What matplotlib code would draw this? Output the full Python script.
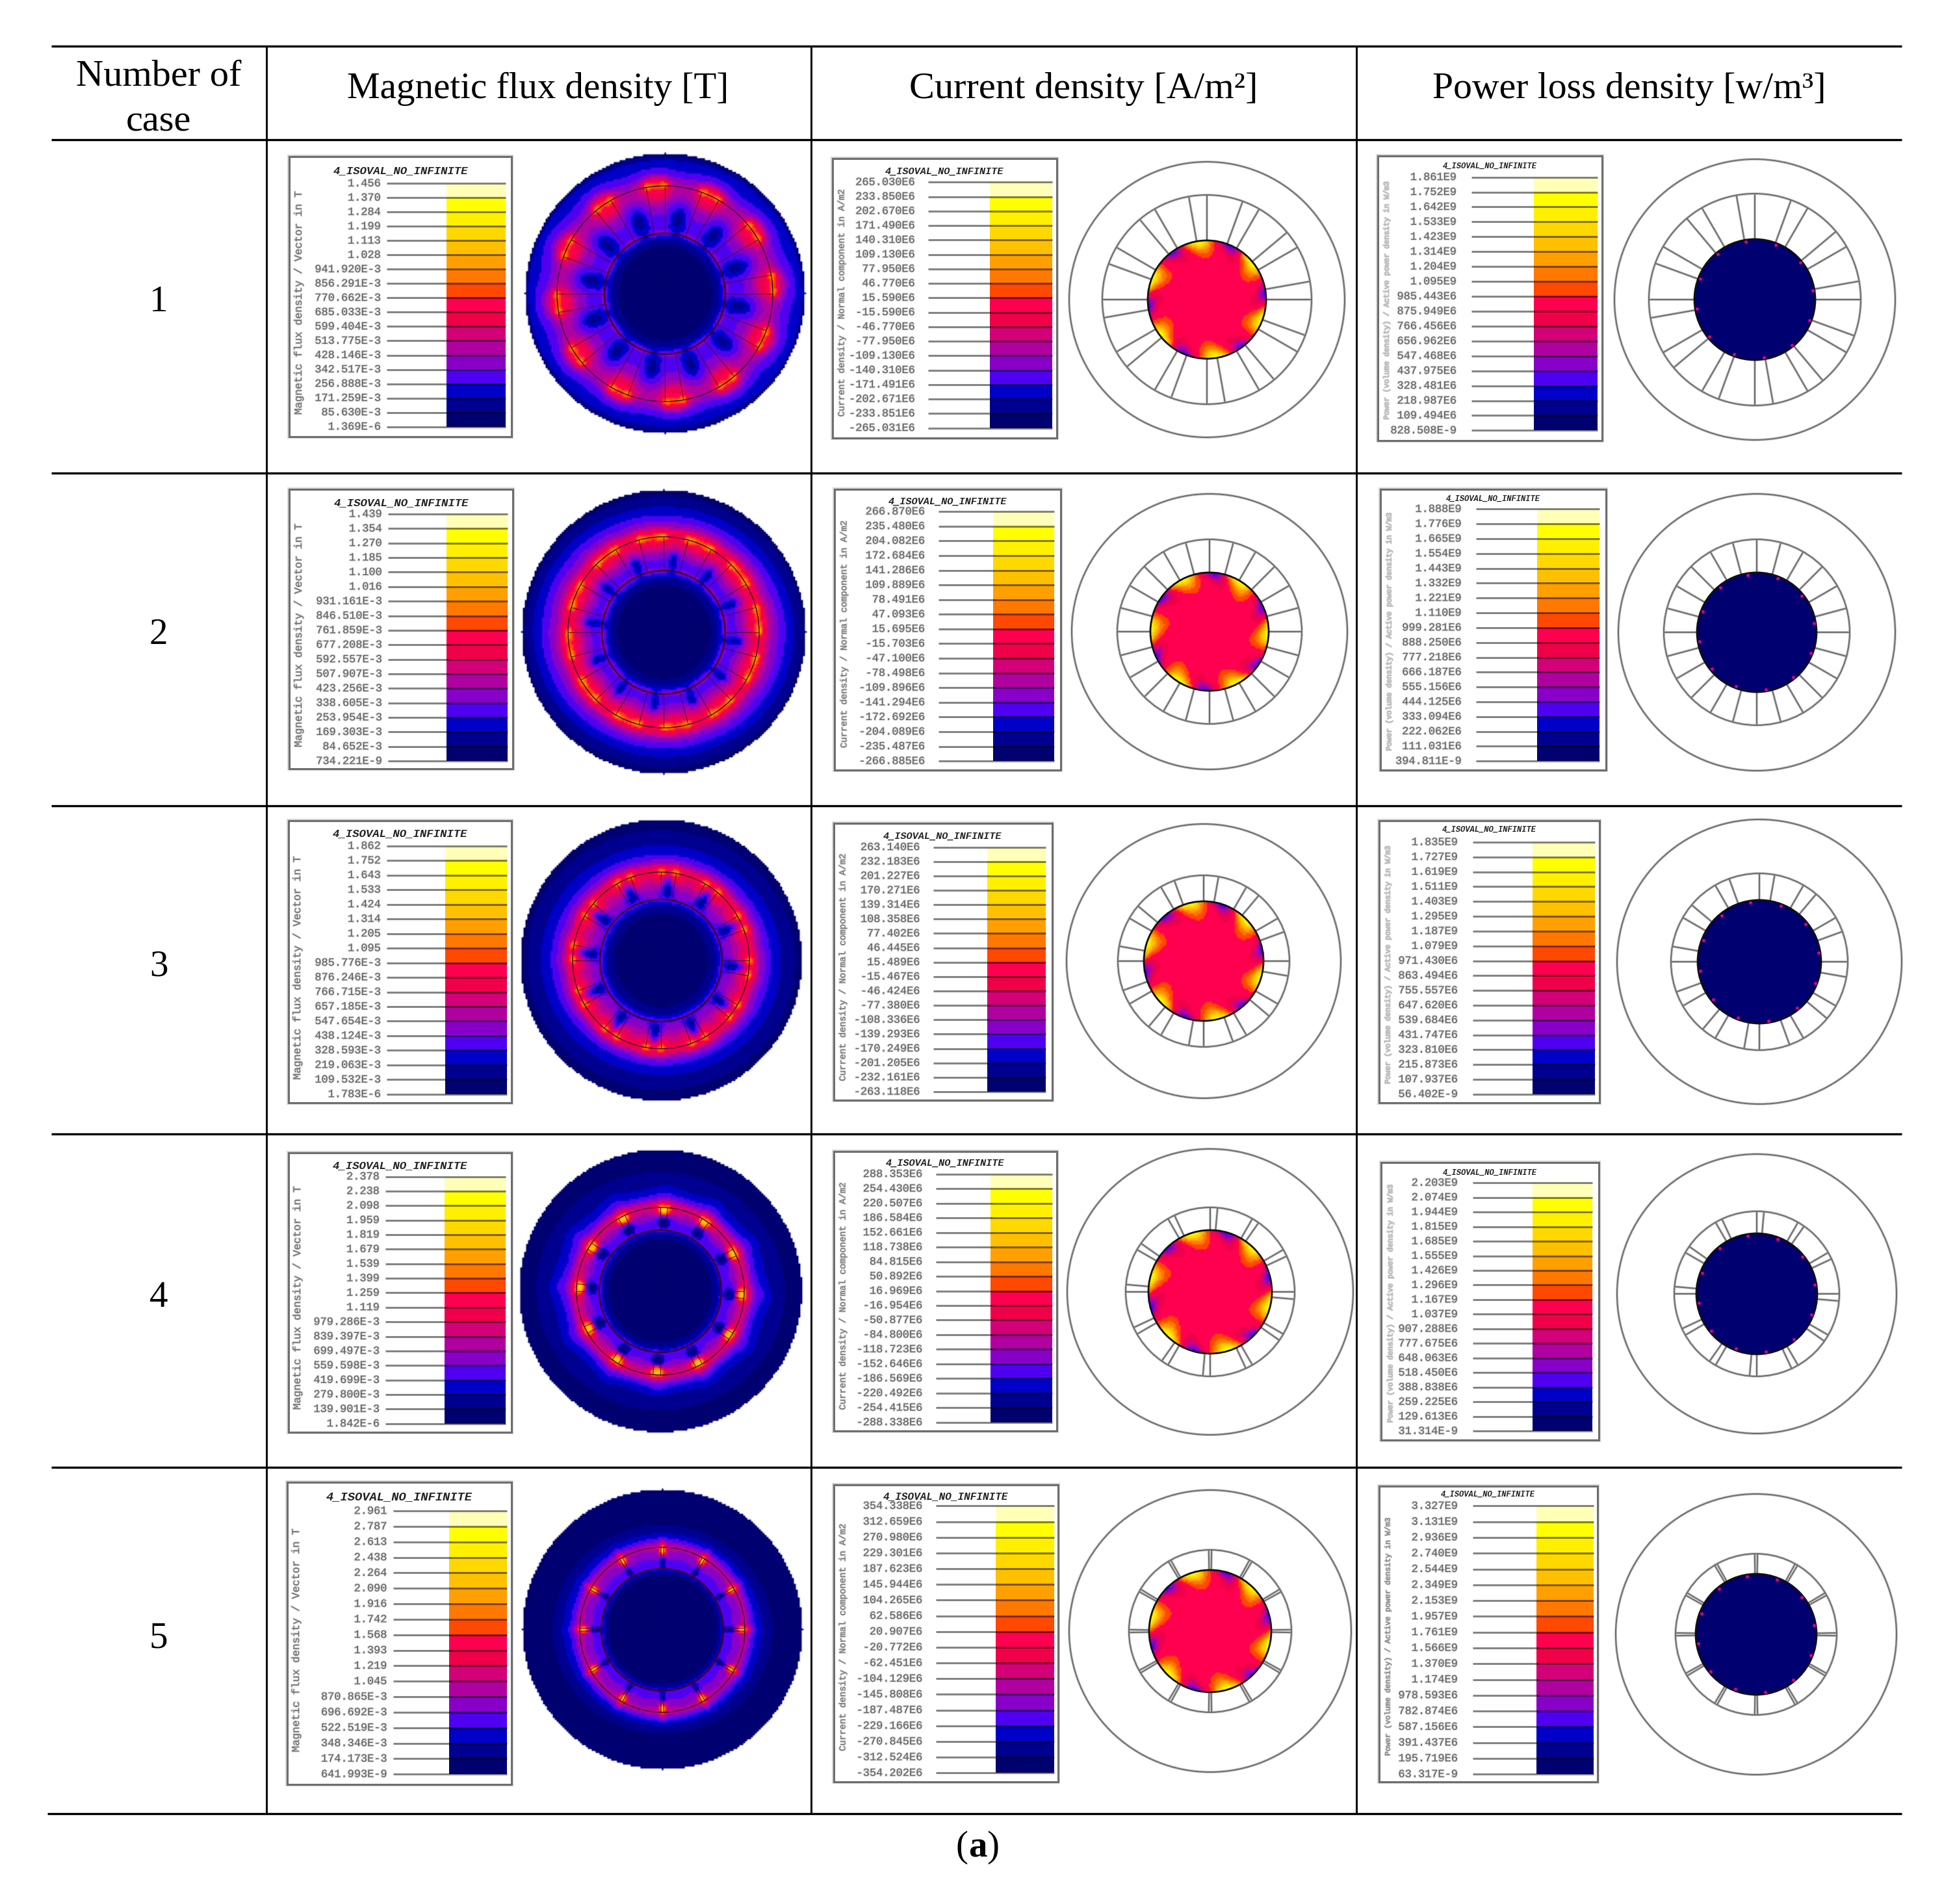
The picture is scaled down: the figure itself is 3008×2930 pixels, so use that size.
import numpy as np
import matplotlib
matplotlib.use("Agg")
import matplotlib.pyplot as plt
import matplotlib.patheffects as pe
from matplotlib.colors import ListedColormap, BoundaryNorm
from matplotlib.patches import Circle, Rectangle

# ---------- text content ----------
CASES = ["1", "2", "3", "4", "5"]
HEADERS = ["Magnetic flux density [T]", "Current density [A/m²]", "Power loss density [w/m³]"]
HEADER_SIZES = [41, 42, 41.5]
LEGEND_TITLE = "4_ISOVAL_NO_INFINITE"
YLABELS = ["Magnetic flux density / Vector in T",
           "Current density / Normal component in A/m2",
           "Power (volume density) / Active power density in W/m3"]

FLUX_LABELS = [
 "1.456 1.370 1.284 1.199 1.113 1.028 941.920E-3 856.291E-3 770.662E-3 685.033E-3 599.404E-3 513.775E-3 428.146E-3 342.517E-3 256.888E-3 171.259E-3 85.630E-3 1.369E-6".split(),
 "1.439 1.354 1.270 1.185 1.100 1.016 931.161E-3 846.510E-3 761.859E-3 677.208E-3 592.557E-3 507.907E-3 423.256E-3 338.605E-3 253.954E-3 169.303E-3 84.652E-3 734.221E-9".split(),
 "1.862 1.752 1.643 1.533 1.424 1.314 1.205 1.095 985.776E-3 876.246E-3 766.715E-3 657.185E-3 547.654E-3 438.124E-3 328.593E-3 219.063E-3 109.532E-3 1.783E-6".split(),
 "2.378 2.238 2.098 1.959 1.819 1.679 1.539 1.399 1.259 1.119 979.286E-3 839.397E-3 699.497E-3 559.598E-3 419.699E-3 279.800E-3 139.901E-3 1.842E-6".split(),
 "2.961 2.787 2.613 2.438 2.264 2.090 1.916 1.742 1.568 1.393 1.219 1.045 870.865E-3 696.692E-3 522.519E-3 348.346E-3 174.173E-3 641.993E-9".split(),
]
CURRENT_LABELS = [
 "265.030E6 233.850E6 202.670E6 171.490E6 140.310E6 109.130E6 77.950E6 46.770E6 15.590E6 -15.590E6 -46.770E6 -77.950E6 -109.130E6 -140.310E6 -171.491E6 -202.671E6 -233.851E6 -265.031E6".split(),
 "266.870E6 235.480E6 204.082E6 172.684E6 141.286E6 109.889E6 78.491E6 47.093E6 15.695E6 -15.703E6 -47.100E6 -78.498E6 -109.896E6 -141.294E6 -172.692E6 -204.089E6 -235.487E6 -266.885E6".split(),
 "263.140E6 232.183E6 201.227E6 170.271E6 139.314E6 108.358E6 77.402E6 46.445E6 15.489E6 -15.467E6 -46.424E6 -77.380E6 -108.336E6 -139.293E6 -170.249E6 -201.205E6 -232.161E6 -263.118E6".split(),
 "288.353E6 254.430E6 220.507E6 186.584E6 152.661E6 118.738E6 84.815E6 50.892E6 16.969E6 -16.954E6 -50.877E6 -84.800E6 -118.723E6 -152.646E6 -186.569E6 -220.492E6 -254.415E6 -288.338E6".split(),
 "354.338E6 312.659E6 270.980E6 229.301E6 187.623E6 145.944E6 104.265E6 62.586E6 20.907E6 -20.772E6 -62.451E6 -104.129E6 -145.808E6 -187.487E6 -229.166E6 -270.845E6 -312.524E6 -354.202E6".split(),
]
POWER_LABELS = [
 "1.861E9 1.752E9 1.642E9 1.533E9 1.423E9 1.314E9 1.204E9 1.095E9 985.443E6 875.949E6 766.456E6 656.962E6 547.468E6 437.975E6 328.481E6 218.987E6 109.494E6 828.508E-9".split(),
 "1.888E9 1.776E9 1.665E9 1.554E9 1.443E9 1.332E9 1.221E9 1.110E9 999.281E6 888.250E6 777.218E6 666.187E6 555.156E6 444.125E6 333.094E6 222.062E6 111.031E6 394.811E-9".split(),
 "1.835E9 1.727E9 1.619E9 1.511E9 1.403E9 1.295E9 1.187E9 1.079E9 971.430E6 863.494E6 755.557E6 647.620E6 539.684E6 431.747E6 323.810E6 215.873E6 107.937E6 56.402E-9".split(),
 "2.203E9 2.074E9 1.944E9 1.815E9 1.685E9 1.555E9 1.426E9 1.296E9 1.167E9 1.037E9 907.288E6 777.675E6 648.063E6 518.450E6 388.838E6 259.225E6 129.613E6 31.314E-9".split(),
 "3.327E9 3.131E9 2.936E9 2.740E9 2.544E9 2.349E9 2.153E9 1.957E9 1.761E9 1.566E9 1.370E9 1.174E9 978.593E6 782.874E6 587.156E6 391.437E6 195.719E6 63.317E-9".split(),
]

# colour bands, bottom to top of every scale
BANDS = ["#000070", "#000090", "#0000C8", "#5000F0", "#8800C8", "#B000A0", "#D40078",
         "#F00048", "#FF0050", "#FF4800", "#FF7800", "#FFA000", "#FFC000", "#FFD800",
         "#FFF000", "#FFFF00", "#FFFFB8"]

# ---------- table layout (pixels) ----------
H_LINES = [71, 215, 728, 1240, 1745, 2258, 2791]
V_LINES = [410, 1248, 2087]
ROW_Y = [465, 977, 1488, 1997, 2521]
COL_X = [828, 1667, 2507]
U = 1.92  # legend boxes below were measured at 1/1.92 of full size
# box x0, x1, y0, y1, bar x0, x1, tick start, top tick, bottom tick, title y
FLUX_LEG = [
 [232, 410, 125.5, 350, 358, 405, 310, 147, 342, 137],
 [232, 411, 392, 616, 358, 407, 311, 412, 610, 403],
 [231, 410, 658, 884, 357, 406, 310, 678, 877, 668],
 [231, 410, 924, 1148, 356, 405, 309, 943, 1141, 934],
 [230, 410, 1188, 1430, 360, 406, 315, 1211, 1422, 1200],
]
CURR_LEG = [
 [667, 847, 127, 351, 793, 843, 744, 146, 343, 137.5],
 [669, 850, 392, 617, 796, 845, 752, 410, 610, 402],
 [668, 843, 660, 882, 791, 838, 748, 679, 875, 670],
 [668, 847, 923, 1147, 794, 843, 750, 941, 1140, 932],
 [668, 848, 1190, 1428, 798, 845, 750, 1207, 1421, 1199],
]
POWER_LEG = [
 [1104, 1284, 125, 353, 1229, 1280, 1179, 142, 345, 133],
 [1106, 1287, 392, 617, 1232, 1282, 1183, 408, 610, 400],
 [1105, 1282, 658, 884, 1228, 1278, 1180, 675, 877, 665],
 [1107, 1281, 932, 1154, 1228, 1276, 1180, 948, 1147, 940],
 [1105, 1280, 1191, 1428, 1231, 1277, 1180, 1207, 1422, 1198],
]

# ---------- motor geometry ----------
TOOTH_START = [0, 0, -10, -5, -1]      # degrees of first line of each pair
TOOTH_WIDTH = [10, 15, 10, 5, 2]       # degrees between the two lines of a pair
SIDE_OFFSET = [3, 3, 3, 3, 1.5]        # degrees from pair to the "side" column below
FLUX_C = [(1023, 452), (1021, 973), (1017, 1478), (1016, 1987), (1019, 2508)]
FLUX_R = [(216, 166, 93), (219, 147, 95), (217, 136, 94), (218, 129, 94), (216, 127, 94)]
CURR_C = [(1857, 461), (1861, 972), (1852, 1479), (1862, 1988), (1862, 2510)]
CURR_R = [(212, 161, 91), (212, 142, 91), (211, 132, 92), (220, 130, 95), (217, 125, 94)]
POWER_C = [(2700, 461), (2703, 973), (2707, 1480), (2703, 1991), (2702, 2515)]
POWER_R = [(216, 163, 93), (213, 143, 92), (219, 136, 95), (215, 127, 93), (216, 124, 93)]
POWER_SPOT_ANGLE = 9                   # rim hot spots, one per 30 degrees

# ---------- flux density field, band index read at radius / sector position ----------
# columns: pair edge, pair middle, just outside pair, middle of wide sector
FLUX_RADII = [
 [0, 60, 78, 88, 93, 100, 118, 135, 150, 160, 166, 172, 180, 190, 205, 213, 216],
 [0, 60, 78, 88, 95, 102, 115, 128, 138, 147, 153, 162, 175, 190, 205, 215, 219],
 [0, 60, 75, 88, 94, 100, 110, 122, 130, 136, 142, 150, 165, 185, 205, 212, 217],
 [0, 60, 80, 90, 94, 100, 112, 122, 129, 135, 145, 160, 180, 200, 218],
 [0, 62, 85, 92, 94, 97, 110, 120, 127, 132, 140, 150, 165, 190, 216],
]
FLUX_EDGE = [
 [0, .3, 1.3, 2.5, 6, 3.2, 3.8, 4.8, 7.5, 8.5, 13, 8.5, 5, 3.4, 2.5, 1.5, 0],
 [0, .3, 1.3, 2.5, 5.5, 3, 4, 6, 8, 13, 8.5, 5.5, 3.8, 2.5, 1.5, .8, 0],
 [0, .2, 1.2, 2.3, 5, 3, 4, 7, 9, 13, 9, 5, 3, 1.8, 1, .5, 0],
 [0, .2, 1, 2, 5, 2, 1, 13, 13, 7, 4, 2.5, 1.2, .7, 0],
 [0, .2, 1, 2, 5, 1, 1.5, 16, 12, 7, 3.5, 2.2, 1, 0, 0],
]
FLUX_PAIR = [
 [0, .3, 1.3, 2.5, 5, 3.2, 3.8, 5, 7.5, 8.5, 9.5, 8.5, 6, 3.5, 2.5, 1.5, 0],
 [0, .3, 1.3, 2.5, 4.5, 3.5, 4.5, 6.5, 8, 9.5, 8.5, 5.5, 3.8, 2.5, 1.5, .8, 0],
 [0, .2, 1.2, 2.3, 4, 1.5, .8, 2.5, 6, 8, 7.5, 5, 3, 1.8, 1, .5, 0],
 [0, .2, 1, 2, 4, 1, .8, 15, 11, 7, 4, 2.5, 1.2, .7, 0],
 [0, .2, 1, 2, 5, 1, 1.5, 16, 12, 7, 3.5, 2.2, 1, 0, 0],
]
FLUX_SIDE = [
 [0, .3, 1.3, 2.5, 4, 3, 3.3, 4, 5.5, 6.5, 6.5, 5.5, 4.2, 3.2, 2.5, 1.5, 0],
 [0, .3, 1.3, 2.5, 4, 3.5, 4, 6, 7.5, 8.5, 8, 5.2, 3.8, 2.5, 1.5, .8, 0],
 [0, .2, 1.2, 2.3, 4, 4, 5, 7, 8, 8.5, 7.5, 5, 3, 1.8, 1, .5, 0],
 [0, .2, 1, 2, 4, 3, 4, 6.5, 8, 6, 3.5, 2.2, 1.2, .7, 0],
 [0, .2, 1, 1.8, 5, 3, 4.5, 5, 7, 5, 3, 2, 1, 0, 0],
]
FLUX_WIDE = [
 [0, .3, 1.3, 2.5, 3, 2, .8, 3, 4.8, 5.2, 5, 4.6, 3.8, 3, 2.4, 1.5, 0],
 [0, .3, 1.3, 2.5, 3, 1.5, 1, 5.5, 7, 8, 7.5, 5, 3.7, 2.5, 1.5, .8, 0],
 [0, .2, 1.2, 2.3, 4, 4, 5, 6, 7, 8, 7, 4.5, 3, 1.8, 1, .5, 0],
 [0, .2, 1, 2, 4, 3.5, 4.5, 5.5, 7, 5.5, 3.2, 2, 1.2, .7, 0],
 [0, .2, 1, 1.8, 5, 3, 4, 4.5, 6, 4.5, 3, 2, 1, 0, 0],
]
# outer-field lobes: radial shift in px, 16 directions from 0 degrees
FLUX_LOBES = [3, 1, -2, -4, -5, -3, 1, 3, 4, 2, -1, -4, -5, -4, 0, 2]

# ---------- current density field on the rotor (period 60 degrees) ----------
CURR_ORANGE_ANGLE = [39, 58, 44, 47, 47]     # direction of one orange lobe
CURR_U = [-20, -14, -7, 0, 7, 14, 20, 28, 34, 40]
CURR_F = [0, .66, .74, .84, .92, .97, 1.0]
CURR_Z = [
 [8.5] * 10,
 [8.5] * 10,
 [8.5, 8.5, 8.5, 10.0, 9.0, 8.5, 8.5, 7.5, 8.5, 8.5],
 [8.5, 8.5, 9.6, 11.5, 10.5, 8.5, 8.2, 6.0, 7.8, 8.5],
 [8.5, 8.6, 11.0, 14.0, 12.0, 8.5, 7.5, 4.5, 7.0, 8.5],
 [8.5, 9.0, 14.0, 16.5, 14.0, 9.0, 6.0, 2.0, 5.5, 8.5],
 [8.5, 9.5, 16.0, 17.0, 16.0, 9.5, 5.0, 0.0, 4.5, 8.5],
]
CURR_SKEW = 36   # degrees of spiral per unit of radius fraction

# ---------- styles ----------
SERIF = "Liberation Serif"
MONO = "Liberation Mono"
CMAP = ListedColormap(BANDS)
CMAP.set_bad((1, 1, 1, 0))
NORM = BoundaryNorm(np.arange(len(BANDS) + 1), len(BANDS))

fig = plt.figure(figsize=(30.08, 29.30), dpi=100)
ax = fig.add_axes([0, 0, 1, 1])
ax.set_xlim(0, 3008)
ax.set_ylim(2930, 0)
ax.axis("off")
ax.autoscale(False)


def lookup(v, nodes):
    i = np.clip(np.searchsorted(nodes, v, side="right") - 1, 0, len(nodes) - 2)
    t = np.clip((v - nodes[i]) / (nodes[i + 1] - nodes[i]), 0, 1)
    return i, t


def table(r, u, rows, cols, Z):
    rows, cols, Z = np.asarray(rows, float), np.asarray(cols, float), np.asarray(Z, float)
    i, t = lookup(r, rows)
    j, s = lookup(u, cols)
    return (Z[i, j] * (1 - t) * (1 - s) + Z[i + 1, j] * t * (1 - s)
            + Z[i, j + 1] * (1 - t) * s + Z[i + 1, j + 1] * t * s)


def box_smooth(Z, width, passes):
    kernel = np.ones(width) / width
    pad = width // 2
    for _ in range(passes):
        P = np.pad(Z, pad, mode="edge")
        P = np.apply_along_axis(lambda a: np.convolve(a, kernel, mode="same"), 0, P)
        P = np.apply_along_axis(lambda a: np.convolve(a, kernel, mode="same"), 1, P)
        Z = P[pad:-pad, pad:-pad]
    return Z


def show_field(cx, cy, R, Z_func, step=3.0, smooth=(3, 1)):
    xs = np.arange(cx - R - 6, cx + R + 6, step)
    ys = np.arange(cy - R - 6, cy + R + 6, step)
    X, Y = np.meshgrid(xs, ys)
    dx, dy = X - cx, cy - Y
    r = np.hypot(dx, dy)
    th = np.degrees(np.arctan2(dy, dx)) % 360
    Zv = box_smooth(Z_func(r, th), *smooth)
    Z = np.ma.masked_where(r > R, np.clip(Zv, 0, 16.99))
    ax.imshow(Z, cmap=CMAP, norm=NORM, origin="upper", aspect="auto",
              extent=(xs[0] - step / 2, xs[-1] + step / 2, ys[-1] + step / 2, ys[0] - step / 2),
              interpolation="bilinear", interpolation_stage="rgba", zorder=2)


def soft_circle(cx, cy, r, color="#707070", lw=1.5, halo="#cfcfcf", z=4):
    if halo:
        ax.add_patch(Circle((cx, cy), r, fill=False, ec=halo, lw=lw + 1.4, zorder=z))
    ax.add_patch(Circle((cx, cy), r, fill=False, ec=color, lw=lw, zorder=z))


def tooth_lines(cx, cy, r0, r1, case, color, lw, halo=None, alpha=1.0):
    angs = []
    for k in range(12):
        angs += [TOOTH_START[case] + 30 * k, TOOTH_START[case] + TOOTH_WIDTH[case] + 30 * k]
    for a in angs:
        c, s = np.cos(np.radians(a)), np.sin(np.radians(a))
        xx = [cx + r0 * c, cx + r1 * c]
        yy = [cy - r0 * s, cy - r1 * s]
        if halo:
            ax.plot(xx, yy, color=halo, lw=lw + 1.4, solid_capstyle="butt", zorder=3)
        ax.plot(xx, yy, color=color, lw=lw, alpha=alpha, solid_capstyle="butt", zorder=4)


def flux_panel(case):
    cx, cy = FLUX_C[case]
    R, rs, rr = FLUX_R[case]
    w = TOOTH_WIDTH[case]
    d = SIDE_OFFSET[case]
    mid = (w + 30) / 2
    cols = [0, w / 2, w, w + d, mid, 30 - d, 30]
    rows = FLUX_RADII[case]
    E, P, S, W = FLUX_EDGE[case], FLUX_PAIR[case], FLUX_SIDE[case], FLUX_WIDE[case]
    Zt = np.array([E, P, E, S, W, S, E]).T

    def f(r, th):
        u = (th - TOOTH_START[case]) % 30
        lobes = np.interp(th, np.arange(0, 360, 22.5), FLUX_LOBES, period=360)
        fade = np.clip((r - rs - 10) / 20, 0, 1) * np.clip((R - r) / 12, 0, 1)
        return table(r - lobes * fade, u, rows, cols, Zt)

    show_field(cx, cy, R, f, smooth=(3, 1))
    ink = "#3a0030"
    soft_circle(cx, cy, rs, color=ink, lw=1.0, halo=None)
    soft_circle(cx, cy, rr, color=ink, lw=1.8, halo=None)
    tooth_lines(cx, cy, rr, rs, case, ink, 0.9, alpha=0.75)


def current_panel(case):
    cx, cy = CURR_C[case]
    R, rs, rr = CURR_R[case]
    off = CURR_ORANGE_ANGLE[case]

    def f(r, th):
        frac = r / rr
        u = ((th - off + 20 + CURR_SKEW * (1 - frac)) % 60) - 20
        return table(frac, u, CURR_F, CURR_U, CURR_Z)

    show_field(cx, cy, rr + 0.5, f, step=2.5, smooth=(5, 2))
    soft_circle(cx, cy, R)
    soft_circle(cx, cy, rs)
    tooth_lines(cx, cy, rr, rs, case, "#707070", 1.5, halo="#cfcfcf")
    soft_circle(cx, cy, rr, color="#101010", lw=2.0, halo=None, z=5)


def power_panel(case):
    cx, cy = POWER_C[case]
    R, rs, rr = POWER_R[case]
    soft_circle(cx, cy, R)
    soft_circle(cx, cy, rs)
    tooth_lines(cx, cy, rr, rs, case, "#707070", 1.5, halo="#cfcfcf")
    ax.add_patch(Circle((cx, cy), rr, fc=BANDS[0], ec="#101010", lw=2.0, zorder=5))
    a = np.radians(POWER_SPOT_ANGLE + 30 * np.arange(12))
    ax.scatter(cx + (rr - 3) * np.cos(a), cy - (rr - 3) * np.sin(a), s=10,
               c=BANDS[8], edgecolors="#A000A0", linewidths=0.6, zorder=6)


def legend(spec, labels, ylabel, title_size, lab_size, ylab_size, lab_gap, ylab_color,
           title_color="#222222"):
    x0, x1, y0, y1, bx0, bx1, t0, top, bot, ty = [v * U for v in spec]
    ax.add_patch(Rectangle((x0, y0), x1 - x0, y1 - y0, fc="white", ec="#d5d5d5", lw=4.2, zorder=1))
    ax.add_patch(Rectangle((x0, y0), x1 - x0, y1 - y0, fc="white", ec="#6e6e6e", lw=2.2, zorder=1.1))
    ticks = np.linspace(top, bot, len(labels))
    heights = np.diff(ticks)
    ax.bar(np.full(len(BANDS), (bx0 + bx1) / 2), heights, width=bx1 - bx0, bottom=ticks[:-1],
           color=BANDS[::-1], zorder=2)
    ax.hlines(ticks, t0, bx1, colors="#000000", alpha=0.48, lw=2.2, zorder=3)
    halo = [pe.withStroke(linewidth=1.6, foreground="#d8d8d8")]
    for y, s in zip(ticks, labels):
        ax.text(t0 - lab_gap * U, y, s, ha="right", va="center", family=MONO, fontsize=lab_size,
                color="#5c5c5c", path_effects=halo, zorder=3)
    ax.text((x0 + x1) / 2, ty, LEGEND_TITLE, ha="center", va="center", family=MONO,
            fontweight="bold", fontstyle="italic", fontsize=title_size, color=title_color, zorder=3)
    ax.text(x0 + 14, (top + bot) / 2 - 4, ylabel, rotation=90, ha="center", va="center", family=MONO,
            fontsize=ylab_size, color=ylab_color, path_effects=halo, zorder=3)


# ---------- table rules and heads ----------
for i, y in enumerate(H_LINES):
    ax.hlines(y, 73 if i == len(H_LINES) - 1 else 79, 2926, colors="black", lw=2.4, zorder=6)
ax.vlines(V_LINES, H_LINES[0], H_LINES[-1], colors="black", lw=2.1, zorder=6)

ax.text(244, 117, "Number of", ha="center", va="center", family=SERIF, fontsize=42)
ax.text(244, 188, "case", ha="center", va="center", family=SERIF, fontsize=42)
for x, h, fs in zip(COL_X, HEADERS, HEADER_SIZES):
    ax.text(x, 137, h, ha="center", va="center", family=SERIF, fontsize=fs)
for y, c in zip(ROW_Y, CASES):
    ax.text(244, y, c, ha="center", va="center", family=SERIF, fontsize=41)

ax.text(1480, 2843, "(", ha="center", va="center", family=SERIF, fontsize=41)
ax.text(1504, 2843, "a", ha="center", va="center", family=SERIF, fontsize=41, fontweight="bold")
ax.text(1528, 2843, ")", ha="center", va="center", family=SERIF, fontsize=41)

# ---------- panels ----------
for c in range(len(CASES)):
    flux_panel(c)
    current_panel(c)
    power_panel(c)
    legend(FLUX_LEG[c], FLUX_LABELS[c], YLABELS[0], 12.5 if c < 4 else 13.5, 12.2, 11.8, 5, "#666666")
    legend(CURR_LEG[c], CURRENT_LABELS[c], YLABELS[1], 11 if c < 4 else 11.5, 12.2, 10, 11, "#666666")
    legend(POWER_LEG[c], POWER_LABELS[c], YLABELS[2], 8.7, 12.2, 8.3, 12,
           "#aaaaaa" if c < 4 else "#666666")

ax.set_xlim(0, 3008)
ax.set_ylim(2930, 0)
fig.savefig("out.png", dpi=100, facecolor="white")
